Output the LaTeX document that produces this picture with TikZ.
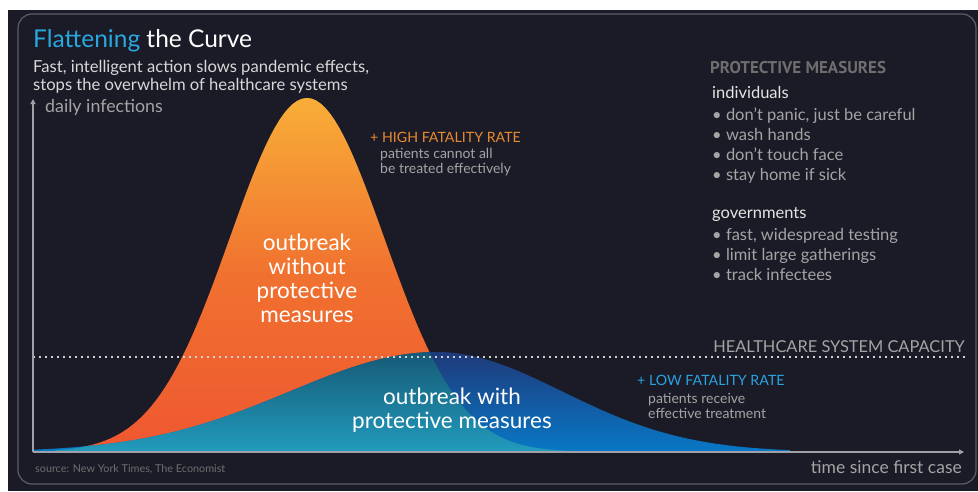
\documentclass[tikz,border=0pt]{standalone}
\usepackage{fontspec}
\setmainfont{Lato}
\newfontfamily\headfont{PT Sans}
\usetikzlibrary{arrows.meta}

\definecolor{bgdark}{HTML}{1A1B27}
\definecolor{frame}{HTML}{5C5D66}
\definecolor{axisgray}{HTML}{A0A1A8}
\definecolor{titleblue}{HTML}{29A8E0}
\definecolor{lighttext}{HTML}{D8D8D8}
\definecolor{midtext}{HTML}{A4A4A4}
\definecolor{darktext}{HTML}{6E6E6E}
\definecolor{highorange}{HTML}{E98A2E}
\definecolor{lowblue}{HTML}{2AA3DF}
\definecolor{orTop}{HTML}{F8AE38}
\definecolor{orMid}{HTML}{F0712F}
\definecolor{orBot}{HTML}{EF5730}
\definecolor{blTop}{HTML}{1F3A7A}
\definecolor{blBot}{HTML}{0878C6}
\definecolor{tlTop}{HTML}{165A76}
\definecolor{tlBot}{HTML}{229BBD}

\begin{document}
\begin{tikzpicture}[x=1pt,y=-1pt,
  declare function={orng(\x)=452-354*exp(-0.5*((\x-307)/77)*((\x-307)/77));
    blul(\x)=452-100*exp(-0.5*((\x-437)/147)*((\x-437)/147));
    blur(\x)=452-100*exp(-0.5*((\x-437)/125)*((\x-437)/125));},
  txt/.style={anchor=base west, inner sep=0pt},
  bullet/.style={txt, midtext, font=\fontsize{16.5}{19}\selectfont},
  note/.style={txt, midtext, font=\fontsize{14}{16}\selectfont},
  big/.style={white, inner sep=0pt, align=center, font=\fontsize{22.5}{24}\selectfont}]
\useasboundingbox (0,0) rectangle (978,491);
\fill[white] (0,0) rectangle (978,491);
\fill[bgdark] (8,10) rectangle (978,491);
\draw[frame, line width=1.2pt, rounded corners=14pt] (18,14) rectangle (976,484);

\coordinate (origin) at (33,452);
\coordinate (ytip) at (33,99);
\coordinate (xtip) at (964,452);
\coordinate (capl) at (33,357);
\coordinate (capr) at (965,357);

% the two curves
\shade[top color=orTop, bottom color=orBot, middle color=orMid]
  (55,452) -- plot[domain=55:600, samples=120] (\x,{orng(\x)}) -- (600,452) -- cycle;
\shade[top color=blTop, bottom color=blBot]
  (33,452) -- plot[domain=33:437, samples=80] (\x,{blul(\x)})
  -- plot[domain=437:790, samples=80] (\x,{blur(\x)}) -- (790,452) -- cycle;
\begin{scope}
  \clip (55,452) -- plot[domain=55:600, samples=120] (\x,{orng(\x)}) -- (600,452) -- cycle;
  \shade[top color=tlTop, bottom color=tlBot]
    (33,452) -- plot[domain=33:437, samples=80] (\x,{blul(\x)})
    -- plot[domain=437:790, samples=80] (\x,{blur(\x)}) -- (790,452) -- cycle;
\end{scope}

\draw[white!80!bgdark, line width=1.5pt, dash pattern=on 1.5pt off 4.5pt] (capl) -- (capr);
\draw[axisgray, line width=1.4pt, -{Triangle[length=5pt,width=5pt]}] (origin) -- (ytip);
\draw[axisgray, line width=1.4pt, -{Triangle[length=5pt,width=5pt]}] (origin) -- (xtip);

\node[txt, font=\fontsize{24.5}{28}\selectfont] (title) at (33,47) {\textcolor{titleblue}{Flattening} \textcolor{white}{the Curve}};
\node[txt, lighttext, font=\fontsize{16.6}{19}\selectfont] (sub1) at (33,72) {Fast, intelligent action slows pandemic effects,};
\node[txt, lighttext, font=\fontsize{16.6}{19}\selectfont] (sub2) at (33,90) {stops the overwhelm of healthcare systems};
\node[txt, midtext, font=\fontsize{17.8}{20}\selectfont] (ylab) at (45,112) {daily infections};
\node[txt, midtext, font=\fontsize{17.5}{20}\selectfont, anchor=base east] (xlab) at (962,473) {time since first case};
\node[txt, darktext, font=\fontsize{10.8}{12}\selectfont] (source) at (35,472) {source: New York Times, The Economist};
\node[txt, midtext, font=\fontsize{16.4}{18}\selectfont, anchor=base east] (caplab) at (965,352) {HEALTHCARE SYSTEM CAPACITY};

\node[big, anchor=north] (without) at (307,234) {outbreak\\without\\protective\\measures};
\node[big, anchor=north] (with) at (452,388) {outbreak with\\protective measures};

\node[txt, highorange, font=\fontsize{14.2}{16}\selectfont] (high) at (370,142) {+ HIGH FATALITY RATE};
\node[note] (high1) at (380,158) {patients cannot all};
\node[note] (high2) at (380,173) {be treated effectively};
\node[txt, lowblue, font=\fontsize{14.2}{16}\selectfont] (low) at (637,385) {+ LOW FATALITY RATE};
\node[note] (low1) at (648,403) {patients receive};
\node[note] (low2) at (648,418) {effective treatment};

\node[txt, darktext, font=\headfont\bfseries\fontsize{17}{19}\selectfont] (measures) at (710,73) {PROTECTIVE MEASURES};
\node[txt, white!90!black, font=\fontsize{16.5}{19}\selectfont] (indiv) at (712,98) {individuals};
\node[bullet] (ind1) at (712,120) {• don’t panic, just be careful};
\node[bullet] (ind2) at (712,140) {• wash hands};
\node[bullet] (ind3) at (712,160) {• don’t touch face};
\node[bullet] (ind4) at (712,180) {• stay home if sick};
\node[txt, white!90!black, font=\fontsize{16.5}{19}\selectfont] (gov) at (712,218) {governments};
\node[bullet] (gov1) at (712,240) {• fast, widespread testing};
\node[bullet] (gov2) at (712,260) {• limit large gatherings};
\node[bullet] (gov3) at (712,280) {• track infectees};
\end{tikzpicture}
\end{document}
